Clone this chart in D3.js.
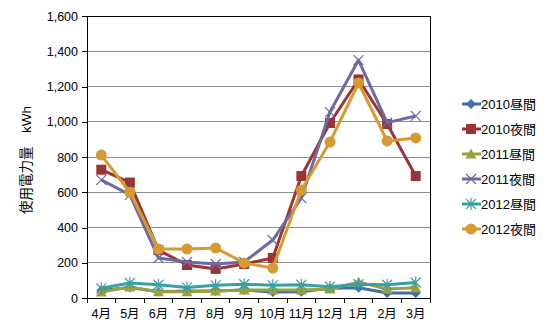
<!DOCTYPE html>
<html><head><meta charset="utf-8">
<script src="https://cdn.jsdelivr.net/npm/d3@7"></script>
<style>
body{margin:0;background:#fff;}
text{font-family:"Liberation Sans","Noto Sans CJK JP",sans-serif;}
</style></head>
<body><svg id="c" width="550" height="334"></svg>
<script>
const months = ["4月","5月","6月","7月","8月","9月","10月","11月","12月","1月","2月","3月"];
const yTicks = [0,200,400,600,800,1000,1200,1400,1600];
const seriesNames = ["2010昼間","2010夜間","2011昼間","2011夜間","2012昼間","2012夜間"];
const day2010   = [42, 60, 35, 40, 40, 45, 34, 36, 55, 58, 28, 28];
const night2010 = [728, 655, 272, 187, 165, 193, 227, 692, 993, 1240, 987, 692];
const day2011   = [34, 62, 36, 36, 40, 45, 45, 45, 51, 90, 51, 58];
const night2011 = [670, 585, 227, 204, 193, 204, 329, 567, 1055, 1350, 995, 1033];
const day2012   = [55, 85, 75, 60, 72, 78, 72, 75, 64, 78, 75, 88];
const night2012 = [811, 600, 278, 278, 284, 199, 170, 613, 885, 1220, 891, 908];
const colors = ["#3d6fab","#9b3535","#9ea03a","#6e68a3","#37a0a4","#d69a31"];
const markers = ["diamond","square","triangle","x","asterisk","circle"];
const data = [day2010, night2010, day2011, night2011, day2012, night2012];

const svg = d3.select("#c");
const L = 87, R = 430, T = 16, B = 298;
const x = d3.scaleBand().domain(months).range([L, R]);
const y = d3.scaleLinear().domain([0, 1600]).range([B, T]);

svg.append("g").selectAll("line").data(yTicks.filter(d => d > 0)).join("line")
  .attr("x1", L).attr("x2", R).attr("y1", d => y(d)).attr("y2", d => y(d))
  .attr("stroke", "#8c8c8c").attr("stroke-width", 1).attr("shape-rendering", "crispEdges");

svg.append("rect").attr("x", L).attr("y", T).attr("width", R - L).attr("height", B - T)
  .attr("fill", "none").attr("stroke", "#000").attr("shape-rendering", "crispEdges");

const yAxis = d3.axisLeft(y).tickValues(yTicks).tickSize(5).tickPadding(4).tickFormat(d3.format(","));
const gy = svg.append("g").attr("transform", `translate(${L},0)`).call(yAxis);
gy.select(".domain").attr("stroke", "#000").attr("shape-rendering", "crispEdges");
gy.selectAll(".tick line").attr("stroke", "#000").attr("shape-rendering", "crispEdges");
gy.selectAll("text").attr("font-size", 12.5).attr("fill", "#000")
  .style("font-family", "'Liberation Sans','Noto Sans CJK JP',sans-serif");

const gx = svg.append("g").attr("transform", `translate(0,${B})`);
gx.selectAll("line").data(months.concat(["end"])).join("line")
  .attr("x1", (d, i) => L + i * x.bandwidth()).attr("x2", (d, i) => L + i * x.bandwidth())
  .attr("y1", 0).attr("y2", 5).attr("stroke", "#000").attr("shape-rendering", "crispEdges");
gx.append("line").attr("x1", L).attr("x2", R).attr("y1", 0).attr("y2", 0)
  .attr("stroke", "#000").attr("shape-rendering", "crispEdges");
gx.selectAll("text").data(months).join("text")
  .attr("x", d => x(d) + x.bandwidth() / 2).attr("y", 20)
  .attr("text-anchor", "middle").attr("font-size", 12.5).attr("fill", "#000").text(d => d);

svg.append("text").attr("transform", "translate(31,160) rotate(-90)")
  .attr("text-anchor", "middle").attr("font-size", 13.5).attr("fill", "#000").text("使用電力量　kWh");

function drawMarker(g, type, color) {
  if (type === "diamond") {
    g.append("path").attr("d", "M0,-5L5,0L0,5L-5,0Z").attr("fill", color);
  } else if (type === "square") {
    g.append("rect").attr("x", -5).attr("y", -5).attr("width", 10).attr("height", 10).attr("fill", color);
  } else if (type === "triangle") {
    g.append("path").attr("d", "M0,-5.5L5.5,4.5L-5.5,4.5Z").attr("fill", color);
  } else if (type === "circle") {
    g.append("circle").attr("r", 5.5).attr("fill", color);
  } else if (type === "x") {
    g.append("path").attr("d", "M-5,-5L5,5M-5,5L5,-5").attr("stroke", color).attr("stroke-width", 1.2).attr("fill", "none");
  } else if (type === "asterisk") {
    g.append("path").attr("d", "M-5,-5L5,5M-5,5L5,-5M0,-6L0,6").attr("stroke", color).attr("stroke-width", 1.2).attr("fill", "none");
  }
}

const line = d3.line().x((d, i) => x(months[i]) + x.bandwidth() / 2).y(d => y(d));
data.forEach((vals, s) => {
  const g = svg.append("g");
  g.append("path").datum(vals).attr("d", line).attr("fill", "none")
    .attr("stroke", colors[s]).attr("stroke-width", 3).attr("stroke-linejoin", "round");
  vals.forEach((v, i) => {
    const m = g.append("g").attr("transform", `translate(${x(months[i]) + x.bandwidth() / 2},${y(v)})`);
    drawMarker(m, markers[s], colors[s]);
  });
});

const lg = svg.append("g");
seriesNames.forEach((n, s) => {
  const yy = 104 + s * 25;
  lg.append("line").attr("x1", 462).attr("x2", 481).attr("y1", yy).attr("y2", yy)
    .attr("stroke", colors[s]).attr("stroke-width", 3);
  drawMarker(lg.append("g").attr("transform", `translate(471,${yy})`), markers[s], colors[s]);
  lg.append("text").attr("x", 481).attr("y", yy + 5).attr("font-size", 13).attr("fill", "#000").text(n);
});
</script></body></html>
